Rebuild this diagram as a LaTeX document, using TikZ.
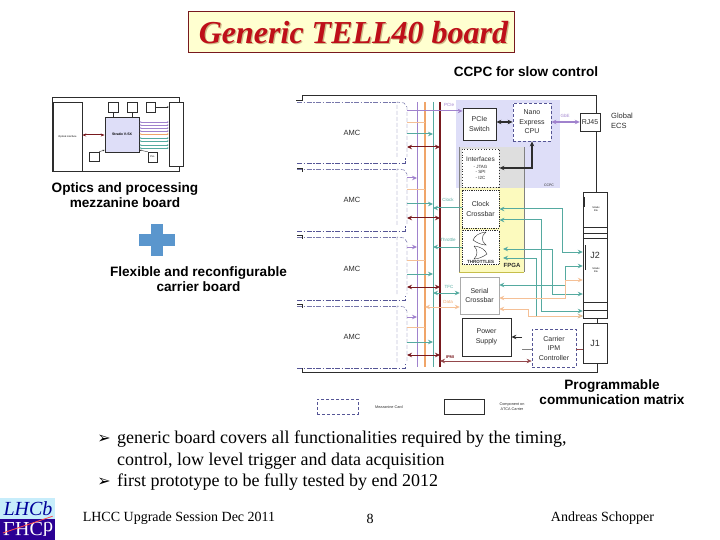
\documentclass[tikz,border=0pt]{standalone}
\usepackage{fontspec}
\setmainfont{Liberation Serif}
\setsansfont{Liberation Sans}
\newfontfamily\dejavu{DejaVu Sans}
\usetikzlibrary{arrows.meta, calc}
\definecolor{CP}{RGB}{160,130,205}
\definecolor{CO}{RGB}{240,165,105}
\definecolor{CT}{RGB}{85,170,160}
\definecolor{CR}{RGB}{120,25,30}
\definecolor{CN}{RGB}{85,85,150}
\definecolor{LL}{RGB}{222,222,248}
\definecolor{LY}{RGB}{252,250,190}
\definecolor{LGr}{RGB}{222,222,222}
\definecolor{DG}{RGB}{45,45,45}
\definecolor{TB}{RGB}{255,255,208}
\definecolor{TR}{RGB}{190,15,25}
\definecolor{TS}{RGB}{205,185,135}
\definecolor{PB}{RGB}{90,150,205}

\begin{document}
\begin{tikzpicture}[
  x=1pt, y=-1pt,
  box/.style={draw=DG, fill=white, thick, align=center, inner sep=0pt, font=\sffamily\fontsize{7}{9.5}\selectfont, text=DG},
  dbox/.style={box, densely dashed, draw=CN},
  amc/.style={minimum width=110pt, minimum height=61pt, inner sep=0pt, font=\sffamily\fontsize{7.5}{9}\selectfont, text=DG},
  mini/.style={draw=DG, fill=white, inner sep=0pt, font=\sffamily\fontsize{2.5}{3}\selectfont, align=center},
  tiny/.style={inner sep=0pt, align=center, font=\sffamily\fontsize{4.5}{5.5}\selectfont},
  head/.style={inner sep=0pt, align=center, font=\sffamily\bfseries\fontsize{13.6}{15}\selectfont},
  bullet/.style={inner sep=0pt, anchor=west, font=\fontsize{18}{20}\selectfont},
  foot/.style={inner sep=0pt, font=\fontsize{14}{16}\selectfont},
  stub/.style={line width=1pt, -{Stealth[length=5pt,width=4.5pt]}},
  link/.style={line width=1pt, {Stealth[length=5pt,width=4.5pt]}-{Stealth[length=5pt,width=4.5pt]}}
]
\useasboundingbox (0,0) rectangle (720,540);

% title
\node[draw=CR, fill=TB, minimum width=326pt, minimum height=41pt, inner sep=0pt] (titlebox) at (351.5,32) {};
\node[inner sep=0pt, text=TS, font=\fontsize{32}{36}\selectfont\bfseries\itshape] (titleshade) at (354.7,33.7) {Generic TELL40 board};
\node[inner sep=0pt, text=TR, font=\fontsize{32}{36}\selectfont\bfseries\itshape] (title) at (353.5,32.5) {Generic TELL40 board};

% mezzanine board
\node[draw=DG, line width=0.8pt, minimum width=127pt, minimum height=74pt, inner sep=0pt] (mezz) at (115.5,134) {};
\node[mini, minimum width=29pt, minimum height=69pt] (optic) at (67.5,136.5) {Optical interface};
\node[mini, fill=LL, draw=DG, thick, minimum width=34pt, minimum height=35pt, font=\sffamily\bfseries\fontsize{3.5}{4}\selectfont] (stratix) at (122,134.5) {Stratix V-SX};
\node[mini, minimum width=10pt, minimum height=10pt] (memA) at (113,107) {};
\node[mini, minimum width=10pt, minimum height=10pt] (memB) at (132,107) {};
\node[mini, minimum width=9pt, minimum height=10pt] (memC) at (150.5,107) {};
\node[mini, minimum width=14pt, minimum height=64pt] (conn) at (176,134) {};
\node[mini, minimum width=10pt, minimum height=9pt] (clk) at (94,156.5) {};
\node[mini, minimum width=9pt, minimum height=10pt] (pll) at (152.5,157) {PLL};
\draw[CR, line width=1pt, {Stealth[length=4pt]}-{Stealth[length=4pt]}] (optic.east |- 0,135) -- (stratix.west |- 0,135);
\draw[DG, thin] (memA) -- (memA |- stratix.north);
\draw[DG, thin] (memB) -- (memB |- stratix.north);
\draw[DG, thin, -{Stealth[length=2pt]}] (memC) -- (conn.west |- memC);
\draw[DG, thin, -{Stealth[length=2pt]}] (clk.north east) -- (stratix.west |- 0,150);
\draw[DG, thin, -{Stealth[length=2pt]}] (pll.north west) -- (stratix.east |- 0,150);
\foreach \y/\col in {122/CP,125/CP,128/CP,131/CP,134/CO,138/CT,141/CT,145/CT,148/CT}
  \draw[\col, thin, {Stealth[length=2pt]}-{Stealth[length=2pt]}] (stratix.east |- 0,\y) -- (conn.west |- 0,\y);

\node[head] (mezztext) at (125,195.5) {Optics and processing\\mezzanine board};
\fill[PB] (151,224) rectangle (163,256);
\fill[PB] (139,234) rectangle (175,246);
\node[head] (carriertext) at (198.5,279.5) {Flexible and reconfigurable\\carrier board};
\node[head] (ccpctext) at (526,72) {CCPC for slow control};
\node[head] (matrixtext) at (612,392) {Programmable\\communication matrix};

% carrier board
\draw[DG, thick] (296,100) -- (302,100) -- (302,95) -- (596.5,95) -- (596.5,192);
\draw[DG, thick] (302,368) -- (302,372) -- (597,372) -- (597,363);
\draw[DG, thick] (597,318) -- (597,323);
\foreach \y in {168,235,304}
  \draw[DG, thick] (297,\y) -- (302,\y) -- (302,\y+4);

% amc cards
\foreach \name/\t/\b in {amcA/102/163,amcB/169/231,amcC/237/300,amcD/306/368}{
  \node[amc] (\name) at (352,{(\t+\b)/2}) {AMC};
  \draw[CN, thick, dash pattern=on 5pt off 1.5pt on 1.5pt off 1.5pt] (297,\b) -- (405,\b) -- (405,\b-6);
  \draw[CN!80, thin, dash pattern=on 5pt off 1.5pt on 1.5pt off 1.5pt] (297,\t) -- (396,\t);
  \draw[CN, thin, dash pattern=on 4pt off 2pt] (397,\b-6) -- (397,\t) -- (404,\t+1) -- (407,\t+5) -- (407,\b-6);
}

% ccpc and fpga areas
\fill[LL] (456,100) rectangle (560,188);
\node[inner sep=0pt, text=DG, font=\sffamily\fontsize{3.5}{4}\selectfont] (ccpclabel) at (549,185) {CCPC};
\fill[LY] (459,188) rectangle (524,272);
\fill[LGr] (459,147) rectangle (524,188);
\draw[DG!60, thick] (459,147) -- (459,272);
\draw[DG!60, thin] (524,147) -- (524,272);
\draw[olive!50!LY, thick] (459,272) -- (524,272);

% buses
\coordinate (busP) at (417,102);
\coordinate (busO) at (425,102);
\coordinate (busT) at (433,102);
\coordinate (busR) at (440,102);
\draw[CP, thin] (busP) -- (417,367);
\draw[CO, line width=1.6pt] (busO) -- (425,367);
\draw[CT, thin] (busT) -- (433,367);
\draw[CR, line width=1.6pt] (busR) -- (440,367);

% stubs from the cards
\foreach \y in {178,247,317}
  \draw[CP, stub] (407,\y) -- (busP |- 0,\y);
\foreach \y in {122,189,260,327}
  \draw[CO!70, thick] (407,\y) -- (busO |- 0,\y);
\foreach \y in {134,204,274,342}
  \draw[CT, stub] (407,\y) -- (busT |- 0,\y);
\foreach \y in {147,218,287,355}
  \draw[CR, link] (407,\y) -- (busR |- 0,\y);

% boxes
\node[box, minimum width=33pt, minimum height=32pt] (pcie) at (479.5,124) {PCIe\\Switch};
\node[dbox, minimum width=38pt, minimum height=38pt] (cpu) at (532,122) {Nano\\Express\\CPU};
\node[box, dotted, draw=DG, minimum width=37pt, minimum height=38pt, font=\sffamily\fontsize{6.5}{6.5}\selectfont] (ifaces) at (480.5,168) {Interfaces\\[0.5pt]{\fontsize{4.5}{5}\selectfont - JTAG}\\[-1pt]{\fontsize{4.5}{5}\selectfont - SPI}\\[-1pt]{\fontsize{4.5}{5}\selectfont - I2C}};
\node[box, densely dotted, minimum width=37pt, minimum height=38pt] (clockx) at (480.5,209) {Clock\\Crossbar};
\node[box, densely dotted, minimum width=37pt, minimum height=34pt] (gatex) at (480.5,247.5) {};
\node[inner sep=0pt, text=DG, font=\sffamily\bfseries\fontsize{4.5}{5}\selectfont] (gatetext) at (480.5,262) {THROTTLES};
\node[inner sep=0pt, text=DG, font=\sffamily\bfseries\fontsize{6}{7}\selectfont] (fpgatext) at (512,265) {FPGA};
\node[box, draw=DG!40, thin, minimum width=39pt, minimum height=37pt] (serialx) at (479.5,295.5) {Serial\\Crossbar};
\node[box, minimum width=49pt, minimum height=38pt] (power) at (486.5,337) {Power\\Supply};
\node[dbox, minimum width=44pt, minimum height=38pt] (ipmc) at (554,348) {Carrier\\IPM\\Controller};
\node[box, thin, minimum width=20pt, minimum height=18pt] (rj) at (590,122) {RJ45};
\node[box, thin, minimum width=24pt, minimum height=126pt, font=\sffamily\fontsize{9}{10}\selectfont] (jcol) at (595,255) {J2};
\node[box, thin, minimum width=24pt, minimum height=40pt, font=\sffamily\fontsize{9}{10}\selectfont] (jone) at (595,343) {J1};
\node[inner sep=0pt, anchor=west, align=left, text=DG, font=\sffamily\fontsize{7.5}{9.5}\selectfont] (ecs) at (611,121) {Global\\ECS};

% details in the connector column
\foreach \y in {227,233,238,302,310}
  \draw[DG, thin] (jcol.west |- 0,\y) -- (jcol.east |- 0,\y);
\draw[DG, thick] (584.5,197) -- (584.5,207);
\draw[DG, thick] (585,245) -- (585,270);
\node[inner sep=0pt, align=center, font=\sffamily\fontsize{2.5}{3}\selectfont] (jtop) at (596,209) {Stratix\\link};
\node[inner sep=0pt, align=center, font=\sffamily\fontsize{2.5}{3}\selectfont] (jlow) at (596,270) {Stratix\\link};

% the two gates
\draw[DG, thin] (486,232) .. controls (478,233) and (475,236) .. (473,240) .. controls (477,243) and (482,245) .. (486,245) .. controls (481,241) and (481,236) .. (486,232);
\draw[DG, thin] (474,246) .. controls (482,247) and (485,250) .. (487,254) .. controls (483,257) and (478,259) .. (474,259) .. controls (478,255) and (478,250) .. (474,246);

% links
\draw[CP, stub] (407,111) -- (pcie.west |- 0,111);
\draw[DG, link, line width=1.2pt] (pcie.east |- cpu) -- (cpu.west);
\draw[CP, link, line width=1.2pt] (cpu.east |- rj) -- (rj.west);
\draw[DG, link, line width=1.2pt] (ifaces.east) -| (cpu.south);
\draw[CT, stub, {Stealth[length=5pt,width=4.5pt]}-] (busT |- 0,208) -- (clockx.west |- 0,208);
\draw[CT, stub, {Stealth[length=5pt,width=4.5pt]}-] (busT |- 0,247) -- (gatex.west |- 0,247);
\draw[CT, link] (busT |- 0,293) -- (serialx.west |- 0,293);
\draw[CO!70, link] (busO |- 0,307) -- (serialx.west |- 0,307);
\draw[CR!80, link, line width=0.6pt] (busR |- 0,361) -- (ipmc.west |- 0,361);
\coordinate (fpgaR) at (503,264);
\draw[CT, link] (clockx.east |- 0,209) -| (562,252) -- (jcol.west |- 0,252);
\draw[CT, link] (clockx.east |- 0,220) -| (541,311) -- (jcol.west |- 0,311);
\draw[CT, link] (fpgaR |- 0,249) -| (552,294) -- (jcol.west |- 0,294);
\draw[CT, link] (fpgaR |- 0,258) -| (536,316) -- (jcol.west |- 0,316);
\draw[CT, link] (serialx.east |- 0,285) -| (565,266) -- (jcol.west |- 0,266);
\draw[CO!70, link] (serialx.east |- 0,298) -| (565,280) -- (jcol.west |- 0,280);
\draw[CO!70, link] (serialx.east |- 0,309) -| (528,316) -- (jcol.west |- 0,316);
\coordinate (ipmA) at (522,337);
\coordinate (ipmB) at (522,349);
\draw[DG, thick, -{Stealth[length=5pt,width=4.5pt]}] (ipmA) -- (power.east |- ipmA);
\draw[DG!60, thick] (ipmB) -- (ipmc.west |- ipmB);
\draw[CR!80, thick] (ipmc.east |- 0,349) -- (jone.west |- 0,349);

% link labels
\node[tiny, text=CP] (pcielabel) at (449,105) {PCIe};
\node[tiny, text=CT] (clocklabel) at (448,200) {Clock};
\node[tiny, text=CT] (throttlelabel) at (448,240) {Throttle};
\node[tiny, text=CT] (tfclabel) at (449,287) {TFC};
\node[tiny, text=CO] (datalabel) at (448,302) {Data};
\node[tiny, text=CR, font=\sffamily\bfseries\fontsize{4}{5}\selectfont] (ipmilabel) at (450,357) {IPMI};
\node[tiny, text=CP] (gbelabel) at (565,116) {GbE};

% legend
\node[box, thin, densely dashed, draw=CN, minimum width=41pt, minimum height=15pt] (legendA) at (337.5,406.5) {};
\node[tiny, text=DG, font=\sffamily\fontsize{3.8}{5}\selectfont] (legendAtext) at (389,407) {Mezzanine Card};
\node[box, thin, minimum width=40pt, minimum height=15pt] (legendB) at (464,406.5) {};
\node[tiny, text=DG, font=\sffamily\fontsize{3.8}{5}\selectfont] (legendBtext) at (512,407) {Component on\\ATCA Carrier};

% bullets
\node[inner sep=0pt, font=\dejavu\fontsize{16}{16}\selectfont] (markA) at (104,439) {➢};
\node[bullet] (lineA) at (117,439) {generic board covers all functionalities required by the timing,};
\node[bullet] (lineB) at (117,461) {control, low level trigger and data acquisition};
\node[inner sep=0pt, font=\dejavu\fontsize{16}{16}\selectfont] (markB) at (104,482) {➢};
\node[bullet] (lineC) at (117,482) {first prototype to be fully tested by end 2012};

% footer
\node[foot] (footA) at (179,518.5) {LHCC Upgrade Session Dec 2011};
\node[foot] (footB) at (370,518.5) {8};
\node[foot] (footC) at (602.5,518.5) {Andreas Schopper};

% logo
\fill[cyan!22!white] (0,498) rectangle (55,519);
\fill[blue!55!violet!75!black] (0,519) rectangle (55,540);
\node[inner sep=0pt, text=blue!60!black, font=\fontsize{20}{22}\selectfont\itshape] (logoA) at (28,509) {LHCb};
\node[inner sep=0pt, text=white, transform shape, yscale=-1, font=\fontsize{20}{22}\selectfont] (logoB) at (28,529) {LHCb};
\draw[red!70, thick] (logoA.south east) -- (logoB.south west |- 0,533);
\end{tikzpicture}
\end{document}
